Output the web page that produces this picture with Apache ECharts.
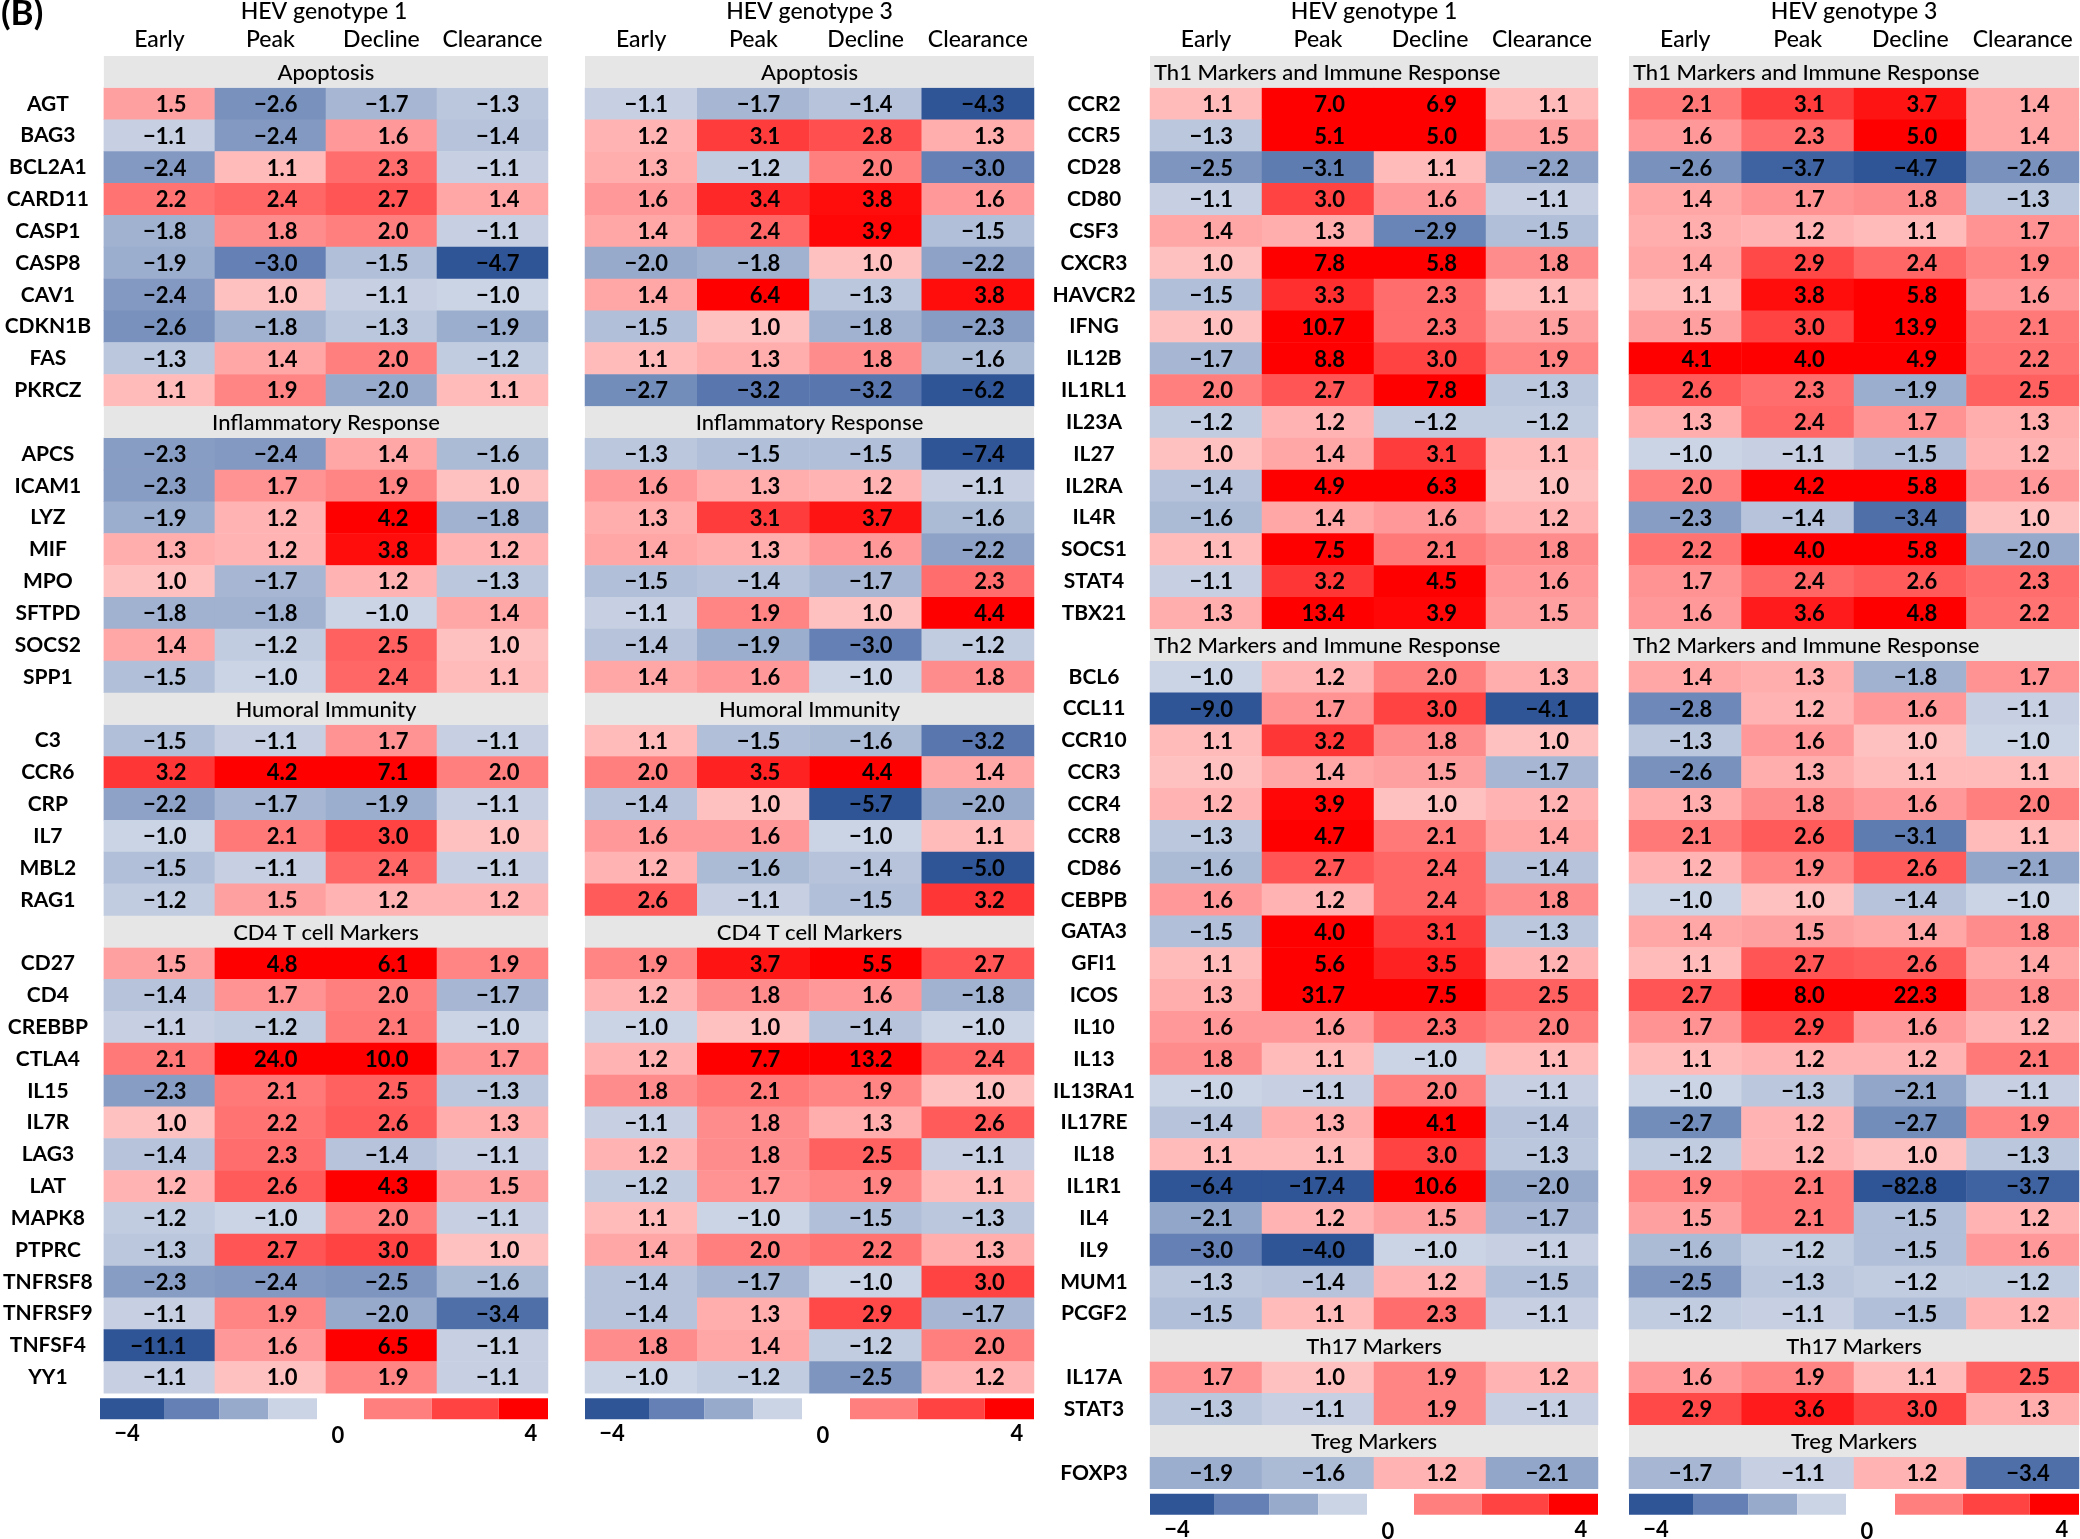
<!DOCTYPE html>
<html><head><meta charset="utf-8">
<script src="https://cdn.jsdelivr.net/npm/echarts@6/dist/echarts.min.js"></script>
<style>html,body{margin:0;padding:0;background:#fff}#c{width:2080px;height:1539px}</style>
</head><body><div id="c"></div><script>
// ---------------- DATA ----------------
const stages = ['Early', 'Peak', 'Decline', 'Clearance'];
const genotypes = ['HEV genotype 1', 'HEV genotype 3'];
const legendTicks = ['\u22124', '0', '4'];

const apoptosisGenes = ['AGT','BAG3','BCL2A1','CARD11','CASP1','CASP8','CAV1','CDKN1B','FAS','PKRCZ'];
const apoptosisG1 = [[1.5,-2.6,-1.7,-1.3],[-1.1,-2.4,1.6,-1.4],[-2.4,1.1,2.3,-1.1],[2.2,2.4,2.7,1.4],[-1.8,1.8,2.0,-1.1],[-1.9,-3.0,-1.5,-4.7],[-2.4,1.0,-1.1,-1.0],[-2.6,-1.8,-1.3,-1.9],[-1.3,1.4,2.0,-1.2],[1.1,1.9,-2.0,1.1]];
const apoptosisG3 = [[-1.1,-1.7,-1.4,-4.3],[1.2,3.1,2.8,1.3],[1.3,-1.2,2.0,-3.0],[1.6,3.4,3.8,1.6],[1.4,2.4,3.9,-1.5],[-2.0,-1.8,1.0,-2.2],[1.4,6.4,-1.3,3.8],[-1.5,1.0,-1.8,-2.3],[1.1,1.3,1.8,-1.6],[-2.7,-3.2,-3.2,-6.2]];

const inflamGenes = ['APCS','ICAM1','LYZ','MIF','MPO','SFTPD','SOCS2','SPP1'];
const inflamG1 = [[-2.3,-2.4,1.4,-1.6],[-2.3,1.7,1.9,1.0],[-1.9,1.2,4.2,-1.8],[1.3,1.2,3.8,1.2],[1.0,-1.7,1.2,-1.3],[-1.8,-1.8,-1.0,1.4],[1.4,-1.2,2.5,1.0],[-1.5,-1.0,2.4,1.1]];
const inflamG3 = [[-1.3,-1.5,-1.5,-7.4],[1.6,1.3,1.2,-1.1],[1.3,3.1,3.7,-1.6],[1.4,1.3,1.6,-2.2],[-1.5,-1.4,-1.7,2.3],[-1.1,1.9,1.0,4.4],[-1.4,-1.9,-3.0,-1.2],[1.4,1.6,-1.0,1.8]];

const humoralGenes = ['C3','CCR6','CRP','IL7','MBL2','RAG1'];
const humoralG1 = [[-1.5,-1.1,1.7,-1.1],[3.2,4.2,7.1,2.0],[-2.2,-1.7,-1.9,-1.1],[-1.0,2.1,3.0,1.0],[-1.5,-1.1,2.4,-1.1],[-1.2,1.5,1.2,1.2]];
const humoralG3 = [[1.1,-1.5,-1.6,-3.2],[2.0,3.5,4.4,1.4],[-1.4,1.0,-5.7,-2.0],[1.6,1.6,-1.0,1.1],[1.2,-1.6,-1.4,-5.0],[2.6,-1.1,-1.5,3.2]];

const cd4Genes = ['CD27','CD4','CREBBP','CTLA4','IL15','IL7R','LAG3','LAT','MAPK8','PTPRC','TNFRSF8','TNFRSF9','TNFSF4','YY1'];
const cd4G1 = [[1.5,4.8,6.1,1.9],[-1.4,1.7,2.0,-1.7],[-1.1,-1.2,2.1,-1.0],[2.1,24.0,10.0,1.7],[-2.3,2.1,2.5,-1.3],[1.0,2.2,2.6,1.3],[-1.4,2.3,-1.4,-1.1],[1.2,2.6,4.3,1.5],[-1.2,-1.0,2.0,-1.1],[-1.3,2.7,3.0,1.0],[-2.3,-2.4,-2.5,-1.6],[-1.1,1.9,-2.0,-3.4],[-11.1,1.6,6.5,-1.1],[-1.1,1.0,1.9,-1.1]];
const cd4G3 = [[1.9,3.7,5.5,2.7],[1.2,1.8,1.6,-1.8],[-1.0,1.0,-1.4,-1.0],[1.2,7.7,13.2,2.4],[1.8,2.1,1.9,1.0],[-1.1,1.8,1.3,2.6],[1.2,1.8,2.5,-1.1],[-1.2,1.7,1.9,1.1],[1.1,-1.0,-1.5,-1.3],[1.4,2.0,2.2,1.3],[-1.4,-1.7,-1.0,3.0],[-1.4,1.3,2.9,-1.7],[1.8,1.4,-1.2,2.0],[-1.0,-1.2,-2.5,1.2]];

const th1Genes = ['CCR2','CCR5','CD28','CD80','CSF3','CXCR3','HAVCR2','IFNG','IL12B','IL1RL1','IL23A','IL27','IL2RA','IL4R','SOCS1','STAT4','TBX21'];
const th1G1 = [[1.1,7.0,6.9,1.1],[-1.3,5.1,5.0,1.5],[-2.5,-3.1,1.1,-2.2],[-1.1,3.0,1.6,-1.1],[1.4,1.3,-2.9,-1.5],[1.0,7.8,5.8,1.8],[-1.5,3.3,2.3,1.1],[1.0,10.7,2.3,1.5],[-1.7,8.8,3.0,1.9],[2.0,2.7,7.8,-1.3],[-1.2,1.2,-1.2,-1.2],[1.0,1.4,3.1,1.1],[-1.4,4.9,6.3,1.0],[-1.6,1.4,1.6,1.2],[1.1,7.5,2.1,1.8],[-1.1,3.2,4.5,1.6],[1.3,13.4,3.9,1.5]];
const th1G3 = [[2.1,3.1,3.7,1.4],[1.6,2.3,5.0,1.4],[-2.6,-3.7,-4.7,-2.6],[1.4,1.7,1.8,-1.3],[1.3,1.2,1.1,1.7],[1.4,2.9,2.4,1.9],[1.1,3.8,5.8,1.6],[1.5,3.0,13.9,2.1],[4.1,4.0,4.9,2.2],[2.6,2.3,-1.9,2.5],[1.3,2.4,1.7,1.3],[-1.0,-1.1,-1.5,1.2],[2.0,4.2,5.8,1.6],[-2.3,-1.4,-3.4,1.0],[2.2,4.0,5.8,-2.0],[1.7,2.4,2.6,2.3],[1.6,3.6,4.8,2.2]];

const th2Genes = ['BCL6','CCL11','CCR10','CCR3','CCR4','CCR8','CD86','CEBPB','GATA3','GFI1','ICOS','IL10','IL13','IL13RA1','IL17RE','IL18','IL1R1','IL4','IL9','MUM1','PCGF2'];
const th2G1 = [[-1.0,1.2,2.0,1.3],[-9.0,1.7,3.0,-4.1],[1.1,3.2,1.8,1.0],[1.0,1.4,1.5,-1.7],[1.2,3.9,1.0,1.2],[-1.3,4.7,2.1,1.4],[-1.6,2.7,2.4,-1.4],[1.6,1.2,2.4,1.8],[-1.5,4.0,3.1,-1.3],[1.1,5.6,3.5,1.2],[1.3,31.7,7.5,2.5],[1.6,1.6,2.3,2.0],[1.8,1.1,-1.0,1.1],[-1.0,-1.1,2.0,-1.1],[-1.4,1.3,4.1,-1.4],[1.1,1.1,3.0,-1.3],[-6.4,-17.4,10.6,-2.0],[-2.1,1.2,1.5,-1.7],[-3.0,-4.0,-1.0,-1.1],[-1.3,-1.4,1.2,-1.5],[-1.5,1.1,2.3,-1.1]];
const th2G3 = [[1.4,1.3,-1.8,1.7],[-2.8,1.2,1.6,-1.1],[-1.3,1.6,1.0,-1.0],[-2.6,1.3,1.1,1.1],[1.3,1.8,1.6,2.0],[2.1,2.6,-3.1,1.1],[1.2,1.9,2.6,-2.1],[-1.0,1.0,-1.4,-1.0],[1.4,1.5,1.4,1.8],[1.1,2.7,2.6,1.4],[2.7,8.0,22.3,1.8],[1.7,2.9,1.6,1.2],[1.1,1.2,1.2,2.1],[-1.0,-1.3,-2.1,-1.1],[-2.7,1.2,-2.7,1.9],[-1.2,1.2,1.0,-1.3],[1.9,2.1,-82.8,-3.7],[1.5,2.1,-1.5,1.2],[-1.6,-1.2,-1.5,1.6],[-2.5,-1.3,-1.2,-1.2],[-1.2,-1.1,-1.5,1.2]];

const th17Genes = ['IL17A','STAT3'];
const th17G1 = [[1.7,1.0,1.9,1.2],[-1.3,-1.1,1.9,-1.1]];
const th17G3 = [[1.6,1.9,1.1,2.5],[2.9,3.6,3.0,1.3]];

const tregGenes = ['FOXP3'];
const tregG1 = [[-1.9,-1.6,1.2,-2.1]];
const tregG3 = [[-1.7,-1.1,1.2,-3.4]];

// ---------------- BUILD ----------------
const FONT = 'Lato, "Noto Sans", "DejaVu Sans", sans-serif';
const PALETTE = ['#2f5597','#6480b4','#97aacb','#cbd4e5','#ffffff','#ffc0c0','#ff7f7f','#ff4343','#ff0000'];
const LEGEND_BLUE = ['#2f5597','#6480b4','#97aacb','#cbd4e5'];
const LEGEND_RED = ['#ff7f7f','#ff4343','#ff0000'];

const leftSide = [
  {name:'Apoptosis', genes:apoptosisGenes, g1:apoptosisG1, g3:apoptosisG3},
  {name:'Inflammatory Response', genes:inflamGenes, g1:inflamG1, g3:inflamG3},
  {name:'Humoral Immunity', genes:humoralGenes, g1:humoralG1, g3:humoralG3},
  {name:'CD4 T cell Markers', genes:cd4Genes, g1:cd4G1, g3:cd4G3}
];
const rightSide = [
  {name:'Th1 Markers and Immune Response', genes:th1Genes, g1:th1G1, g3:th1G3},
  {name:'Th2 Markers and Immune Response', genes:th2Genes, g1:th2G1, g3:th2G3},
  {name:'Th17 Markers', genes:th17Genes, g1:th17G1, g3:th17G3},
  {name:'Treg Markers', genes:tregGenes, g1:tregG1, g3:tregG3}
];

function buildSide(sections) {
  const rows = [], headers = [], g1 = [], g3 = [];
  sections.forEach(s => {
    headers.push({ value: [0, rows.length], text: s.name });
    rows.push('#' + s.name);
    s.genes.forEach((g, i) => {
      const r = rows.length;
      rows.push(g);
      s.g1[i].forEach((v, c) => g1.push([c, r, v]));
      s.g3[i].forEach((v, c) => g3.push([c, r, v]));
    });
  });
  return { rows, headers, data: [g1, g3] };
}
const L = buildSide(leftSide), R = buildSide(rightSide);

const ROW_H = 31.84, TOP = 56;
const panels = [
  { side: L, geno: 0, left: 100, width: 448, labels: true },
  { side: L, geno: 1, left: 585, width: 449, labels: false },
  { side: R, geno: 0, left: 1150, width: 448, labels: true },
  { side: R, geno: 1, left: 1629, width: 450, labels: false }
];

const fmt = v => (v < 0 ? '\u2212' : '') + Math.abs(v).toFixed(1);

const grid = [], xAxis = [], yAxis = [], series = [], title = [], graphic = [];
panels.forEach((p, i) => {
  const h = p.side.rows.length * ROW_H;
  grid.push({ left: p.left, top: TOP, width: p.width, height: h });
  xAxis.push({
    type: 'category', gridIndex: i, data: stages, position: 'top',
    axisLine: { show: false }, axisTick: { show: false }, splitLine: { show: false },
    axisLabel: { interval: 0, margin: 5, fontSize: 23, fontWeight: 500, color: '#000', fontFamily: FONT }
  });
  yAxis.push({
    type: 'category', gridIndex: i, data: p.side.rows, inverse: true,
    axisLine: { show: false }, axisTick: { show: false }, splitLine: { show: false },
    axisLabel: {
      show: p.labels, interval: 0, align: 'center', margin: 56,
      fontSize: 21, fontWeight: 'bold', color: '#000', fontFamily: FONT,
      formatter: v => (v.charAt(0) === '#' ? '' : v)
    }
  });
  title.push({
    text: genotypes[p.geno], left: p.left + p.width / 2, top: 0, padding: 0, textAlign: 'center',
    textStyle: { fontSize: 23, fontWeight: 500, color: '#000', fontFamily: FONT }
  });
  // legend blocks
  const ly = TOP + h + 5, lh = 21;
  const blueL = p.left, blueW = 217, redR = p.left + p.width, redW = 184;
  const bf = [0, 0.295, 0.549, 0.775, 1], rf = [0, 0.368, 0.732, 1];
  LEGEND_BLUE.forEach((c, k) => graphic.push({ type: 'rect', shape: { x: blueL + bf[k] * blueW, y: ly, width: (bf[k + 1] - bf[k]) * blueW, height: lh }, style: { fill: c } }));
  LEGEND_RED.forEach((c, k) => graphic.push({ type: 'rect', shape: { x: redR - redW + rf[k] * redW, y: ly, width: (rf[k + 1] - rf[k]) * redW, height: lh }, style: { fill: c } }));
  const tx = [blueL + 27, blueL + 238, redR - 17];
  legendTicks.forEach((t, k) => graphic.push({ type: 'text', x: tx[k], y: ly + 36 + (k === 1 ? 2 : 0), style: { text: t, align: 'center', verticalAlign: 'middle', fontSize: 22, fontWeight: 'bold', fontFamily: FONT, fill: '#000' } }));
});

panels.forEach((p, i) => {
  series.push({
    type: 'heatmap', xAxisIndex: i, yAxisIndex: i, data: p.side.data[p.geno],
    itemStyle: { borderWidth: 0 },
    label: {
      show: true, align: 'right', offset: [27, 1], fontSize: 22, fontWeight: 'bold', color: '#000', fontFamily: FONT,
      formatter: prm => fmt(prm.value[2])
    },
    emphasis: { disabled: true }
  });
});
panels.forEach((p, i) => {
  series.push({
    type: 'custom', xAxisIndex: i, yAxisIndex: i, data: p.side.headers,
    renderItem: (params, api) => {
      const c = api.coord([0, api.value(1)]);
      const s = api.size([1, 1]);
      const x0 = c[0] - s[0] / 2, y0 = c[1] - s[1] / 2, w = s[0] * 4, hh = s[1];
      const txt = p.side.headers[params.dataIndex].text;
      const leftAlign = txt.length > 24;
      return {
        type: 'group', children: [
          { type: 'rect', shape: { x: x0, y: y0, width: w, height: hh }, style: { fill: '#e6e6e6' } },
          { type: 'text', style: { text: txt, x: leftAlign ? x0 + 4 : x0 + w / 2, y: y0 + hh / 2 + 1, align: leftAlign ? 'left' : 'center', verticalAlign: 'middle', fontSize: 22, fontWeight: 500, fontFamily: FONT, fill: '#000' } }
        ]
      };
    }
  });
});
title.push({ text: '(B)', left: 1, top: -4, padding: 0, textStyle: { fontSize: 35, fontWeight: 'bold', color: '#000', fontFamily: FONT } });

const chart = echarts.init(document.getElementById('c'), null, { renderer: 'canvas' });
chart.setOption({
  animation: false,
  backgroundColor: '#fff',
  title, grid, xAxis, yAxis, series, graphic,
  visualMap: {
    type: 'continuous', show: false, min: -4, max: 4, dimension: 2,
    seriesIndex: [0, 1, 2, 3], inRange: { color: PALETTE }
  }
});
</script></body></html>
